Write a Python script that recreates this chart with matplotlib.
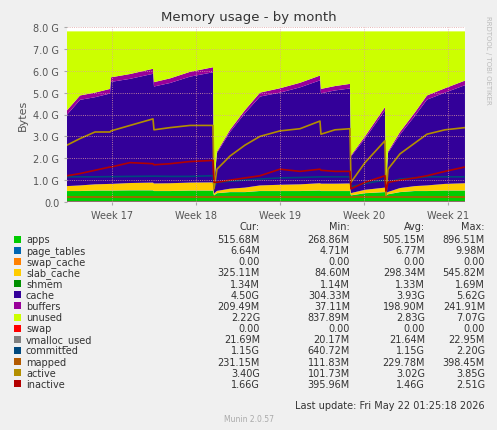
import numpy as np
import matplotlib.pyplot as plt
from matplotlib.patches import Rectangle

# sample positions (days from left edge)
px = [67, 80, 95, 110, 111, 130, 153, 154, 170, 190, 213, 214, 217, 230, 245, 260, 280, 300,
      320, 321, 335, 350, 351, 365, 385, 386, 388, 400, 415, 427, 445, 465]
t = [(p - 67) / 12.0 for p in px]

total = [4.19, 4.87, 5.0, 5.17, 5.7, 5.85, 6.09, 5.48, 5.65, 5.95, 6.16, 0.8, 2.3, 3.3, 4.2, 5.0, 5.2, 5.45,
         5.78, 5.17, 5.3, 5.4, 2.13, 3.0, 4.34, 0.6, 2.3, 3.2, 4.1, 4.87, 5.2, 5.55]
apps = [0.5, 0.5, 0.52, 0.52, 0.52, 0.53, 0.53, 0.5, 0.5, 0.52, 0.52, 0.3, 0.4, 0.45, 0.45, 0.5, 0.5, 0.5,
        0.52, 0.5, 0.5, 0.5, 0.3, 0.4, 0.45, 0.3, 0.35, 0.45, 0.5, 0.5, 0.52, 0.52]
slab = [0.22, 0.25, 0.28, 0.3, 0.3, 0.33, 0.35, 0.34, 0.35, 0.36, 0.37, 0.08, 0.1, 0.15, 0.2, 0.25, 0.28, 0.3,
        0.33, 0.33, 0.33, 0.34, 0.1, 0.15, 0.2, 0.08, 0.1, 0.18, 0.22, 0.25, 0.3, 0.33]
page_tables = [0.0066] * len(t)
swap_cache = [0.0] * len(t)
shmem = [0.0013] * len(t)
buffers = [0.2, 0.2, 0.21, 0.21, 0.21, 0.22, 0.23, 0.2, 0.21, 0.22, 0.23, 0.04, 0.06, 0.1, 0.14, 0.18, 0.2, 0.21,
           0.22, 0.2, 0.2, 0.21, 0.05, 0.1, 0.15, 0.04, 0.06, 0.12, 0.16, 0.19, 0.2, 0.21]
ram_total = 7.8

active = [2.6, 2.9, 3.2, 3.2, 3.25, 3.5, 3.8, 3.3, 3.4, 3.5, 3.5, 0.6, 1.5, 2.1, 2.6, 3.0, 3.25, 3.35,
          3.7, 3.1, 3.3, 3.35, 0.9, 1.8, 2.8, 0.3, 1.5, 2.2, 2.7, 3.1, 3.3, 3.4]
inactive = [1.2, 1.3, 1.45, 1.6, 1.6, 1.8, 1.75, 1.7, 1.75, 1.85, 1.9, 0.9, 0.9, 1.0, 1.1, 1.2, 1.5, 1.4,
            1.5, 1.45, 1.4, 1.4, 0.6, 0.9, 1.2, 0.5, 0.9, 1.0, 1.1, 1.2, 1.4, 1.6]
committed = [1.15, 1.15, 1.15, 1.16, 1.16, 1.17, 1.18, 1.18, 1.17, 1.17, 1.2, 0.7, 0.9, 0.95, 1.0, 1.05, 1.1, 1.12,
             1.15, 1.15, 1.15, 1.15, 0.7, 0.85, 1.0, 0.7, 0.9, 1.05, 1.1, 1.15, 1.15, 1.15]
mapped = [0.23] * len(t)
vmalloc = [0.022] * len(t)
swap = [0.0] * len(t)

week_pos = [3.75, 10.75, 17.75, 24.75, 31.75]
week_lbl = ["Week 17", "Week 18", "Week 19", "Week 20", "Week 21"]

t = np.array(t)
apps, slab, buffers, total = map(np.array, (apps, slab, buffers, total))
cache = total - apps - slab - buffers - np.array(page_tables) - np.array(shmem)
unused = ram_total - total

fig = plt.figure(figsize=(4.97, 4.31), dpi=100, facecolor="#F0F0F0")
ax = fig.add_axes([67/497, (431-203)/431, 398/497, 175/431])
ax.set_facecolor("white")
ax.stackplot(t, apps, page_tables, swap_cache, slab, shmem, cache, buffers, unused,
             colors=["#00CC00", "#0066B3", "#FF8000", "#FFCC00", "#008F00", "#330099", "#990099", "#CCFF00"],
             linewidth=0)
for y, c in [(swap, "#FF0000"), (vmalloc, "#808080"), (committed, "#00487D"), (mapped, "#B35A00"),
             (active, "#B38F00"), (inactive, "#B30000")]:
    ax.plot(t, y, color=c, lw=1.2)
ax.set_xlim(0, 33.17)
ax.set_ylim(0, 8)
ax.set_yticks(range(9))
ax.set_yticklabels(["0.0"] + ["%.1f G" % v for v in range(1, 9)], fontsize=7, color="#555555")
ax.set_xticks(week_pos)
ax.set_xticklabels(week_lbl, fontsize=7, color="#555555")
ax.grid(True, color="#E0A0A0", ls=":", lw=0.6)
ax.set_axisbelow(False)
for s in ax.spines.values():
    s.set_visible(False)
ax.tick_params(length=2, colors="#AAAAAA", labelcolor="#555555")
ax.set_ylabel("Bytes", fontsize=8, color="#555555")
fig.text(0.5, 1 - 18/431, "Memory usage - by month", ha="center", va="center", fontsize=9.5, color="#333333")
fig.text(488/497, 1 - 60/431, "RRDTOOL / TOBI OETIKER", rotation=270, ha="center", va="center",
         fontsize=5, color="#BBBBBB")

names = ["apps", "page_tables", "swap_cache", "slab_cache", "shmem", "cache", "buffers", "unused", "swap",
         "vmalloc_used", "committed", "mapped", "active", "inactive"]
colors = ["#00CC00", "#0066B3", "#FF8000", "#FFCC00", "#008F00", "#330099", "#990099", "#CCFF00", "#FF0000",
          "#808080", "#00487D", "#B35A00", "#B38F00", "#B30000"]
cur = ["515.68M", "6.64M", "0.00", "325.11M", "1.34M", "4.50G", "209.49M", "2.22G", "0.00", "21.69M", "1.15G", "231.15M", "3.40G", "1.66G"]
mn = ["268.86M", "4.71M", "0.00", "84.60M", "1.14M", "304.33M", "37.11M", "837.89M", "0.00", "20.17M", "640.72M", "111.83M", "101.73M", "395.96M"]
avg = ["505.15M", "6.77M", "0.00", "298.34M", "1.33M", "3.93G", "198.90M", "2.83G", "0.00", "21.64M", "1.15G", "229.78M", "3.02G", "1.46G"]
mx = ["896.51M", "9.98M", "0.00", "545.82M", "1.69M", "5.62G", "241.91M", "7.07G", "0.00", "22.95M", "2.20G", "398.45M", "3.85G", "2.51G"]

fs = 7
def fy(py):
    return 1 - py / 431
for x, h in [(260, "Cur:"), (350, "Min:"), (425, "Avg:"), (485, "Max:")]:
    fig.text(x/497, fy(227), h, ha="right", va="center", fontsize=fs, color="#333333")
for i, n in enumerate(names):
    y = 240 + i * 11.15
    fig.patches.append(Rectangle((14/497, fy(y + 3.5)), 7/497, 7/431, transform=fig.transFigure,
                                 facecolor=colors[i], edgecolor="none"))
    fig.text(26/497, fy(y), n, ha="left", va="center", fontsize=fs, color="#333333")
    for x, v in [(260, cur[i]), (350, mn[i]), (425, avg[i]), (485, mx[i])]:
        fig.text(x/497, fy(y), v, ha="right", va="center", fontsize=fs, color="#333333")
fig.text(485/497, fy(406), "Last update: Fri May 22 01:25:18 2026", ha="right", va="center", fontsize=fs, color="#333333")
fig.text(0.5, fy(420), "Munin 2.0.57", ha="center", va="center", fontsize=5.5, color="#AAAAAA")
fig.savefig("out.png", dpi=100, facecolor=fig.get_facecolor())
